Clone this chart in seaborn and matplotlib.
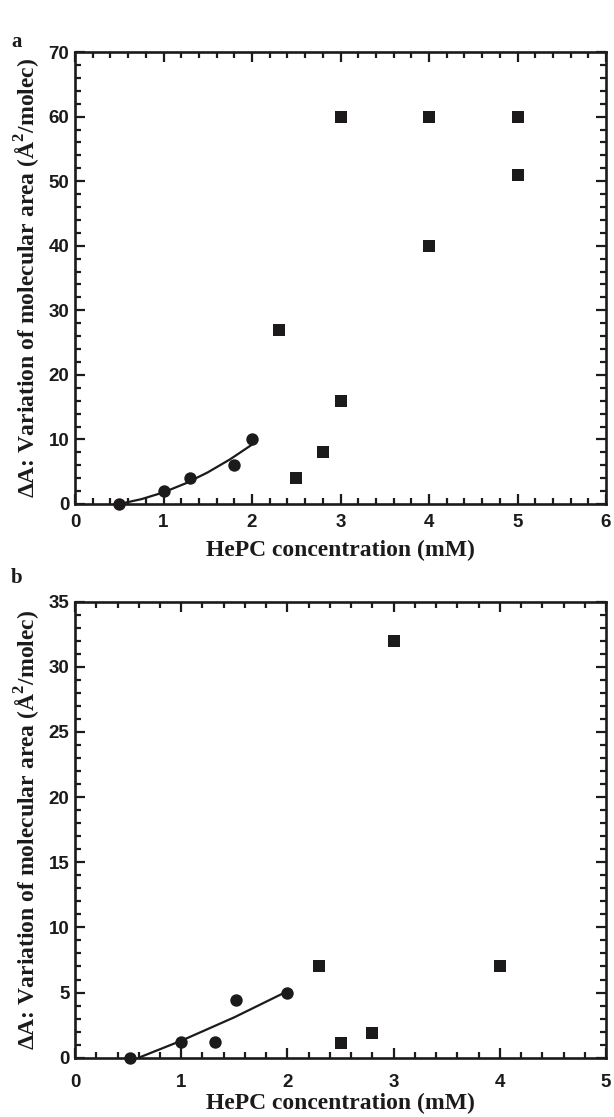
import numpy as np
import pandas as pd
import matplotlib
matplotlib.use("Agg")
import matplotlib.pyplot as plt
import seaborn as sns
from matplotlib.ticker import MultipleLocator

# ---- Data: panel a ----
a_circ_x = [0.5, 1.0, 1.3, 1.8, 2.0]
a_circ_y = [0.0, 2.0, 4.0, 6.0, 10.0]
a_fit_x = [0.5, 0.75, 1.0, 1.25, 1.5, 1.75, 2.0]
a_fit_y = [0.0, 0.75, 1.8, 3.2, 4.9, 6.9, 9.2]
a_sq_x = [2.3, 2.5, 2.8, 3.0, 3.0, 4.0, 4.0, 5.0, 5.0]
a_sq_y = [27.0, 4.0, 8.0, 16.0, 60.0, 40.0, 60.0, 51.0, 60.0]

# ---- Data: panel b ----
b_circ_x = [0.52, 1.0, 1.32, 1.52, 2.0]
b_circ_y = [0.0, 1.2, 1.2, 4.45, 5.0]
b_fit_x = [0.6, 1.0, 1.5, 2.0]
b_fit_y = [0.0, 1.3, 3.1, 5.1]
b_sq_x = [2.3, 2.5, 2.8, 3.0, 4.0]
b_sq_y = [7.0, 1.1, 1.9, 32.0, 7.0]

x_label = "HePC concentration (mM)"
y_label = "ΔA: Variation of molecular area (Å$^\\mathbf{2}$/molec)"
panel_labels = ["a", "b"]

sns.set_style("ticks")
plt.rcParams["font.family"] = ["Liberation Sans", "DejaVu Sans"]
plt.rcParams["mathtext.fontset"] = "custom"
plt.rcParams["mathtext.rm"] = "Liberation Serif"
plt.rcParams["mathtext.bf"] = "Liberation Serif:bold"

INK = "#1c1a1a"

fig = plt.figure(figsize=(6.14, 11.17), dpi=100)
ax_a = fig.add_axes([0.1222, 0.5488, 0.8648, 0.4046])
ax_b = fig.add_axes([0.1222, 0.0531, 0.8648, 0.4083])

def style(ax, xmax, ymax, yminor, xmajor=1, ymajor=10, xpad=4, xlabelpad=1):
    ax.set_xlim(0, xmax)
    ax.set_ylim(0, ymax)
    ax.xaxis.set_major_locator(MultipleLocator(xmajor))
    ax.xaxis.set_minor_locator(MultipleLocator(0.2))
    ax.yaxis.set_major_locator(MultipleLocator(ymajor))
    ax.yaxis.set_minor_locator(MultipleLocator(yminor))
    ax.tick_params(which="both", direction="in", top=True, right=True,
                   color=INK, width=1.6)
    ax.tick_params(which="major", length=7.5, labelsize=13.5)
    ax.tick_params(axis="y", which="major", pad=4)
    ax.tick_params(axis="x", which="major", pad=xpad)
    ax.tick_params(which="minor", length=4)
    for s in ax.spines.values():
        s.set_linewidth(1.9)
        s.set_color(INK)
        s.set_visible(True)
    for lab in ax.get_xticklabels() + ax.get_yticklabels():
        lab.set_fontweight("bold")
        lab.set_color(INK)
    ax.set_xlabel(x_label, family="Liberation Serif", fontweight="bold",
                  fontsize=17, color=INK, labelpad=xlabelpad)
    ax.set_ylabel(y_label, family="Liberation Serif", fontweight="bold",
                  fontsize=17, color=INK, labelpad=4)

# panel a
sns.lineplot(x=a_fit_x, y=a_fit_y, ax=ax_a, color=INK, linewidth=1.6)
sns.scatterplot(x=a_circ_x, y=a_circ_y, ax=ax_a, marker="o", s=80,
                color=INK, edgecolor=INK, linewidth=0, zorder=5, clip_on=False)
sns.scatterplot(x=a_sq_x, y=a_sq_y, ax=ax_a, marker="s", s=85,
                color=INK, edgecolor=INK, linewidth=0, zorder=5, clip_on=False)
style(ax_a, 6, 70, 2, ymajor=10, xpad=7.5, xlabelpad=6)

# panel b
sns.lineplot(x=b_fit_x, y=b_fit_y, ax=ax_b, color=INK, linewidth=1.6)
sns.scatterplot(x=b_circ_x, y=b_circ_y, ax=ax_b, marker="o", s=80,
                color=INK, edgecolor=INK, linewidth=0, zorder=5, clip_on=False)
sns.scatterplot(x=b_sq_x, y=b_sq_y, ax=ax_b, marker="s", s=85,
                color=INK, edgecolor=INK, linewidth=0, zorder=5, clip_on=False)
style(ax_b, 5, 35, 1, ymajor=5, xpad=11.5, xlabelpad=1.5)

fig.text(0.018, 1 - 42 / 1117, panel_labels[0], family="Liberation Serif",
         fontweight="bold", fontsize=15, color=INK, va="center")
fig.text(0.018, 1 - 578 / 1117, panel_labels[1], family="Liberation Serif",
         fontweight="bold", fontsize=15, color=INK, va="center")

fig.savefig("out.png", dpi=100)
